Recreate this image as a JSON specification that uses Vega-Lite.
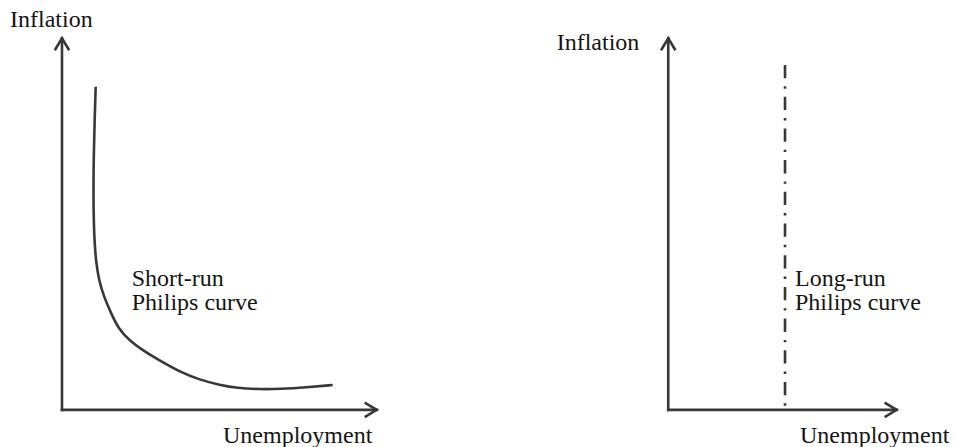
{
  "$schema": "https://vega.github.io/schema/vega-lite/v6.json",
  "background": "white",
  "padding": 0,
  "spacing": 0,
  "config": {"view": {"stroke": null}},
  "hconcat": [
    {
      "width": 478,
      "height": 447,
      "layer": [
        {
          "data": {"values": [
            {"x": 0, "y": 0, "x2": 0, "y2": 10},
            {"x": 0, "y": 0, "x2": 10, "y2": 0}
          ]},
          "mark": {"type": "rule", "color": "#383838", "strokeWidth": 2.6, "strokeCap": "square"},
          "encoding": {
            "x": {"field": "x", "type": "quantitative", "scale": {"domain": [-1.97, 13.22], "nice": false, "zero": false}, "axis": null},
            "y": {"field": "y", "type": "quantitative", "scale": {"domain": [-1, 11.03], "nice": false, "zero": false}, "axis": null},
            "x2": {"field": "x2"},
            "y2": {"field": "y2"}
          }
        },
        {
          "data": {"values": [
            {"x": 0, "y": 10, "angle": 0},
            {"x": 10, "y": 0, "angle": 90}
          ]},
          "mark": {"type": "point", "shape": "M-0.6,1L0,0L0.6,1", "size": 576, "filled": false, "color": "#383838", "strokeWidth": 2.6, "opacity": 1},
          "encoding": {
            "x": {"field": "x", "type": "quantitative", "scale": {"domain": [-1.97, 13.22], "nice": false, "zero": false}, "axis": null},
            "y": {"field": "y", "type": "quantitative", "scale": {"domain": [-1, 11.03], "nice": false, "zero": false}, "axis": null},
            "angle": {"field": "angle", "type": "quantitative", "scale": null}
          }
        },
        {
          "data": {"values": [
            {"i": 1, "x": 1.071, "y": 8.697},
            {"i": 2, "x": 1.04, "y": 7.9},
            {"i": 3, "x": 1.0, "y": 6.5},
            {"i": 4, "x": 1.0, "y": 5.4},
            {"i": 5, "x": 1.03, "y": 4.55},
            {"i": 6, "x": 1.08, "y": 4.0},
            {"i": 7, "x": 1.17, "y": 3.5},
            {"i": 8, "x": 1.33, "y": 3.05},
            {"i": 9, "x": 1.55, "y": 2.62},
            {"i": 10, "x": 1.8, "y": 2.17},
            {"i": 11, "x": 2.15, "y": 1.86},
            {"i": 12, "x": 2.6, "y": 1.58},
            {"i": 13, "x": 3.1, "y": 1.33},
            {"i": 14, "x": 3.7, "y": 1.04},
            {"i": 15, "x": 4.386, "y": 0.803},
            {"i": 16, "x": 5.021, "y": 0.669},
            {"i": 17, "x": 5.561, "y": 0.585},
            {"i": 18, "x": 6.292, "y": 0.553},
            {"i": 19, "x": 6.928, "y": 0.561},
            {"i": 20, "x": 7.776, "y": 0.607},
            {"i": 21, "x": 8.603, "y": 0.669}
          ]},
          "mark": {"type": "line", "color": "#383838", "strokeWidth": 2.6, "interpolate": "basis"},
          "encoding": {
            "x": {"field": "x", "type": "quantitative", "scale": {"domain": [-1.97, 13.22], "nice": false, "zero": false}, "axis": null},
            "y": {"field": "y", "type": "quantitative", "scale": {"domain": [-1, 11.03], "nice": false, "zero": false}, "axis": null},
            "order": {"field": "i", "type": "quantitative"}
          }
        },
        {
          "data": {"values": [
            {"x": -1.652, "y": 10.303, "label": "Inflation"},
            {"x": 2.215, "y": 3.33, "label": "Short-run"},
            {"x": 2.215, "y": 2.687, "label": "Philips curve"},
            {"x": 5.117, "y": -0.9, "label": "Unemployment"}
          ]},
          "mark": {"type": "text", "font": "Liberation Serif", "fontSize": 24, "align": "left", "baseline": "alphabetic", "color": "#151515"},
          "encoding": {
            "x": {"field": "x", "type": "quantitative", "scale": {"domain": [-1.97, 13.22], "nice": false, "zero": false}, "axis": null},
            "y": {"field": "y", "type": "quantitative", "scale": {"domain": [-1, 11.03], "nice": false, "zero": false}, "axis": null},
            "text": {"field": "label"}
          }
        }
      ]
    },
    {
      "width": 478,
      "height": 447,
      "layer": [
        {
          "data": {"values": [
            {"x": 0, "y": 0, "x2": 0, "y2": 10},
            {"x": 0, "y": 0, "x2": 10, "y2": 0}
          ]},
          "mark": {"type": "rule", "color": "#383838", "strokeWidth": 2.6, "strokeCap": "square"},
          "encoding": {
            "x": {"field": "x", "type": "quantitative", "scale": {"domain": [-8.33, 12.6], "nice": false, "zero": false}, "axis": null},
            "y": {"field": "y", "type": "quantitative", "scale": {"domain": [-1, 11.03], "nice": false, "zero": false}, "axis": null},
            "x2": {"field": "x2"},
            "y2": {"field": "y2"}
          }
        },
        {
          "data": {"values": [
            {"x": 0, "y": 10, "angle": 0},
            {"x": 10, "y": 0, "angle": 90}
          ]},
          "mark": {"type": "point", "shape": "M-0.6,1L0,0L0.6,1", "size": 576, "filled": false, "color": "#383838", "strokeWidth": 2.6, "opacity": 1},
          "encoding": {
            "x": {"field": "x", "type": "quantitative", "scale": {"domain": [-8.33, 12.6], "nice": false, "zero": false}, "axis": null},
            "y": {"field": "y", "type": "quantitative", "scale": {"domain": [-1, 11.03], "nice": false, "zero": false}, "axis": null},
            "angle": {"field": "angle", "type": "quantitative", "scale": null}
          }
        },
        {
          "data": {"values": [
            {"x": 5.113, "y": 9.28, "y2": 0.08}
          ]},
          "mark": {"type": "rule", "color": "#383838", "strokeWidth": 2.6, "strokeCap": "butt", "strokeDash": [13.3, 8, 2.4, 8]},
          "encoding": {
            "x": {"field": "x", "type": "quantitative", "scale": {"domain": [-8.33, 12.6], "nice": false, "zero": false}, "axis": null},
            "y": {"field": "y", "type": "quantitative", "scale": {"domain": [-1, 11.03], "nice": false, "zero": false}, "axis": null},
            "y2": {"field": "y2"}
          }
        },
        {
          "data": {"values": [
            {"x": -4.884, "y": 9.684, "label": "Inflation"},
            {"x": 5.55, "y": 3.33, "label": "Long-run"},
            {"x": 5.55, "y": 2.687, "label": "Philips curve"},
            {"x": 5.769, "y": -0.9, "label": "Unemployment"}
          ]},
          "mark": {"type": "text", "font": "Liberation Serif", "fontSize": 24, "align": "left", "baseline": "alphabetic", "color": "#151515"},
          "encoding": {
            "x": {"field": "x", "type": "quantitative", "scale": {"domain": [-8.33, 12.6], "nice": false, "zero": false}, "axis": null},
            "y": {"field": "y", "type": "quantitative", "scale": {"domain": [-1, 11.03], "nice": false, "zero": false}, "axis": null},
            "text": {"field": "label"}
          }
        }
      ]
    }
  ]
}
